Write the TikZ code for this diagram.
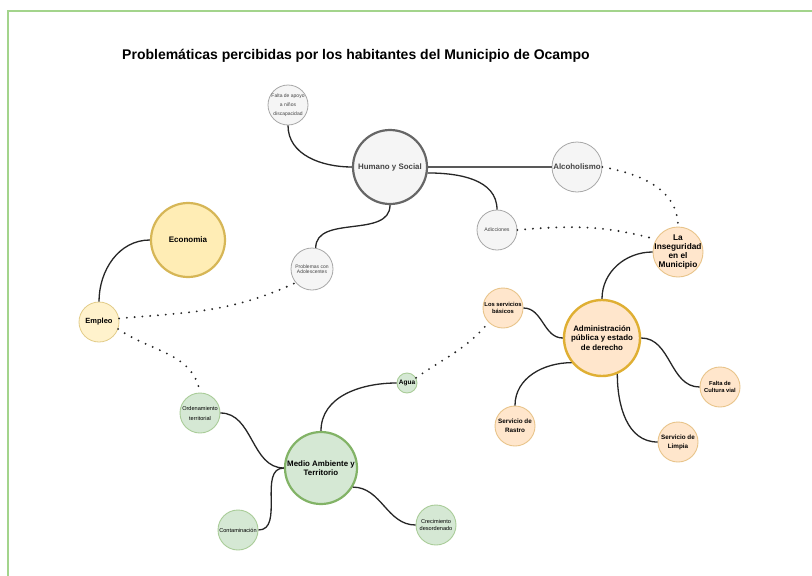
\documentclass[tikz,border=0pt]{standalone}
\usepackage{fontspec}
\setmainfont{Liberation Sans}
\definecolor{gfill}{HTML}{F5F5F5}
\definecolor{gline}{HTML}{A8A8A8}
\definecolor{gdark}{HTML}{666666}
\definecolor{yfill}{HTML}{FFF2CC}
\definecolor{yfillb}{HTML}{FFEDB5}
\definecolor{yline}{HTML}{D6B656}
\definecolor{ofill}{HTML}{FFE6CC}
\definecolor{oline}{HTML}{D79B00}
\definecolor{oline2}{HTML}{E8C48A}
\definecolor{grfill}{HTML}{D5E8D4}
\definecolor{grline}{HTML}{82B366}
\definecolor{grline2}{HTML}{A9CC98}
\definecolor{frame}{HTML}{A3D48C}
\definecolor{txtg}{HTML}{444444}
\newcommand{\myfs}[2]{\fontsize{#1}{#2}\selectfont}
\tikzset{
  circ/.style={circle,inner sep=0pt,align=center,minimum size=#1},
  graysm/.style={circ=#1,fill=gfill,draw=gline,line width=0.8pt,text=txtg},
  ysm/.style={circ=#1,fill=yfill,draw=yline!70,line width=0.8pt},
  osm/.style={circ=#1,fill=ofill,draw=oline2,line width=0.9pt},
  grsm/.style={circ=#1,fill=grfill,draw=grline2,line width=0.9pt},
  link/.style={line width=1.3pt,draw=black!85},
  dots/.style={line width=2.1pt,dash pattern=on 0pt off 7.8pt,line cap=round,draw=black!85}
}
\begin{document}
\begin{tikzpicture}[x=1pt,y=1pt]
\useasboundingbox (0,0) rectangle (812,-576);
\fill[white] (0,0) rectangle (812,-576);
\draw[frame,line width=2.2pt] (8,-576) -- (8,-11) -- (812,-11);

\node[font=\bfseries\myfs{14}{16}] (title) at (356,-56) {Problemáticas percibidas por los habitantes del Municipio de Ocampo};

% gray
\node[graysm=40pt,inner sep=-2pt,font=\myfs{5}{9}] (falta) at (288,-105) {Falta de apoyo\\a niños\\discapacidad};
\node[circ=74pt,fill=gfill,draw=gdark,line width=2.2pt,text=txtg,font=\bfseries\myfs{7.9}{9}] (hum) at (390,-167) {Humano y Social};
\node[graysm=50pt,font=\bfseries\myfs{7.9}{9}] (alc) at (577,-167) {Alcoholismo};
\node[graysm=40pt,font=\myfs{5.2}{6}] (adic) at (497,-230) {Adicciones};
\node[graysm=42pt,font=\myfs{5}{5.5}] (prob) at (312,-269) {Problemas con\\Adolescentes};

% yellow
\node[circ=74pt,fill=yfillb,draw=yline,line width=2.2pt,font=\bfseries\myfs{8}{9}] (eco) at (188,-240) {Economia};
\node[ysm=40pt,font=\bfseries\myfs{7.5}{9}] (emp) at (99,-322) {Empleo};

% orange
\node[osm=50pt,inner sep=-6pt,font=\bfseries\myfs{8.3}{9.2}] (inse) at (678,-252) {La\\Inseguridad\\en el\\Municipio};
\node[osm=40pt,font=\bfseries\myfs{5.8}{6.2}] (serv) at (503,-308) {Los servicios\\básicos};
\node[circ=76pt,fill=ofill,draw=oline!80,line width=2.4pt,font=\bfseries\myfs{7.9}{9.2}] (adm) at (602,-338) {Administración\\pública y estado\\de derecho};
\node[osm=40pt,font=\bfseries\myfs{5.8}{6.2}] (cult) at (720,-387) {Falta de\\Cultura vial};
\node[osm=40pt,font=\bfseries\myfs{6.3}{9}] (rast) at (515,-426) {Servicio de\\Rastro};
\node[osm=40pt,font=\bfseries\myfs{6.3}{9}] (limp) at (678,-442) {Servicio de\\Limpia};

% green
\node[grsm=20pt,font=\bfseries\myfs{6.5}{7}] (agua) at (407,-383) {Agua};
\node[grsm=40pt,font=\myfs{5.6}{10}] (orden) at (200,-413) {Ordenamiento\\territorial};
\node[circ=72pt,fill=grfill,draw=grline,line width=2.2pt,font=\bfseries\myfs{7.9}{9.3}] (medio) at (321,-468) {Medio Ambiente y\\Territorio};
\node[grsm=40pt,font=\myfs{5.6}{6}] (cont) at (238,-530) {Contaminación};
\node[grsm=40pt,font=\myfs{5.6}{6.7}] (crec) at (436,-525) {Crecimiento\\desordenado};

% solid links
\draw[link] (hum.west) to[out=180,in=-90] (falta.south);
\draw[link,line width=1.8pt,draw=black!65] (hum.east) -- (alc.west);
\draw[link] (hum.-9) to[out=0,in=90] (adic.north);
\draw[link] (hum.south) to[out=-90,in=90] (prob.80);
\draw[link] (eco.west) to[out=180,in=90] (emp.north);
\draw[link] (adm.north) to[out=90,in=180] (inse.west);
\draw[link] (adm.west) to[out=180,in=0] (serv.east);
\draw[link] (adm.east) to[out=0,in=180] (cult.west);
\draw[link] (adm.219) to[out=180,in=90] (rast.north);
\draw[link] (adm.-67) to[out=-90,in=180] (limp.west);
\draw[link] (agua.west) to[out=180,in=90] (medio.north);
\draw[link] (orden.east) to[out=0,in=180] (medio.west);
\draw[link] (cont.east) to[out=0,in=180] (medio.west);
\draw[link] (medio.-31) to[out=0,in=180] (crec.west);

% dotted links
\draw[dots] (emp.10) to[out=5,in=205] (prob.220);
\draw[dots] (emp.-20) to[out=-35,in=100] (orden.north);
\draw[dots] (alc.east) to[out=-10,in=90] (inse.north);
\draw[dots] (adic.east) to[out=5,in=165] (inse.150);
\draw[dots] (agua.30) to[out=35,in=230] (serv.225);
\end{tikzpicture}
\end{document}
